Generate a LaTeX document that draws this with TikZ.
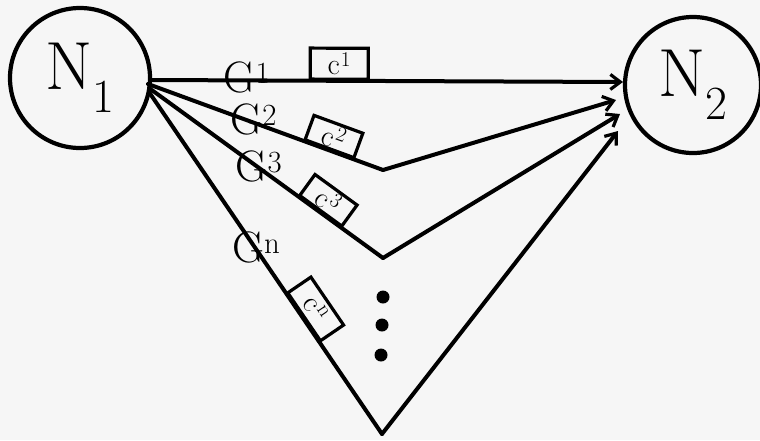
\documentclass[tikz,border=0pt]{standalone}
\usepackage{fontspec}
\usetikzlibrary{arrows.meta}
\begin{document}
\begin{tikzpicture}[x=1pt,y=-1pt,
  ln/.style={line width=4pt,line join=miter,line cap=round},
  arr/.style={ln,-{Straight Barb[length=10pt,width=15pt,line width=3.2pt]}},
  nodecirc/.style={circle,draw,line width=4.2pt,minimum size=#1,inner sep=0pt,font=\fontsize{68}{68}\selectfont},
  cbox/.style={draw,line width=3.2pt,minimum width=52pt,minimum height=26pt,inner sep=0pt,font=\fontsize{30}{30}\selectfont,sloped,anchor=south},
  glab/.style={inner sep=0pt,font=\fontsize{44}{44}\selectfont},
  dot/.style={circle,fill=black,inner sep=0pt,minimum size=13pt}]
\fill[gray!7] (0,0) rectangle (760,440);
\useasboundingbox (0,0) rectangle (760,440);
\node[nodecirc=140pt] (N1) at (80,78) {N\textsubscript{1}};
\node[nodecirc=136pt] (N2) at (693,85) {N\textsubscript{2}};
\coordinate (s1) at (150,80);
\coordinate (s2) at (148,84);
\coordinate (s3) at (149,88);
\coordinate (s4) at (149,92);
\coordinate (v2) at (383,170);
\coordinate (v3) at (383,258);
\coordinate (v4) at (382,434);
\coordinate (e1) at (623,82);
\coordinate (e2) at (616,100);
\coordinate (e3) at (620,114);
\coordinate (e4) at (618,131);
\draw[arr] (s1) -- node[glab,pos=0.205,yshift=3pt] {G\textsuperscript{1}} node[cbox,pos=0.40,minimum width=58pt,minimum height=31pt] {c\kern1pt\textsuperscript{1}} (e1);
\draw[ln] (s2) -- node[glab,pos=0.45,yshift=3pt] {G\textsuperscript{2}} node[cbox,pos=0.77] {c\kern1pt\textsuperscript{2}} (v2);
\draw[arr] (v2) -- (e2);
\draw[ln] (s3) -- node[glab,pos=0.47,yshift=1pt] {G\textsuperscript{3}} node[cbox,pos=0.73] {c\kern1pt\textsuperscript{3}} (v3);
\draw[arr] (v3) -- (e3);
\draw[ln] (s4) -- node[glab,pos=0.46,yshift=2pt] {G\textsuperscript{n}} node[cbox,pos=0.66,minimum width=58pt,minimum height=28pt] {c\kern1pt\textsuperscript{n}} (v4);
\draw[arr] (v4) -- (e4);
\node[dot] (d1) at (383,297) {};
\node[dot] (d2) at (382,325) {};
\node[dot] (d3) at (381,355) {};
\end{tikzpicture}
\end{document}
